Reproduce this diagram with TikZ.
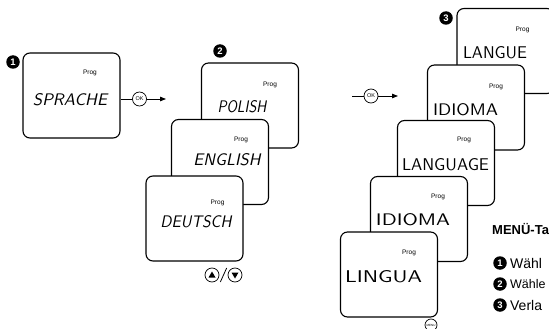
\documentclass[tikz,border=0pt]{standalone}
\usepackage{fontspec}
\setmainfont{Liberation Sans}
\usepackage{graphicx}
\usetikzlibrary{calc,positioning,arrows.meta}
\newcommand{\lcdtext}[2]{\resizebox{#1pt}{12pt}{#2}}
\begin{document}
\begin{tikzpicture}[
  x=1pt, y=-1pt,
  every node/.style={align=center},
  lcdbox/.style={rectangle, draw=black, line width=1.1pt, rounded corners=7pt, minimum width=97pt, minimum height=85pt, fill=white, inner sep=0pt},
  lcdslant/.style={font=\sffamily\slshape, inner sep=0pt},
  lcdup/.style={font=\sffamily, inner sep=0pt},
  prog/.style={font=\fontsize{6.5}{7}\selectfont, inner sep=0pt},
  badge/.style={circle, fill=black, text=white, font=\fontsize{9.5}{10}\selectfont\bfseries, inner sep=0pt, minimum size=13.5pt},
  btn/.style={circle, draw=black, line width=0.7pt, fill=white, inner sep=0pt, minimum size=14pt, font=\fontsize{5.5}{6}\selectfont},
  arrow/.style={-{Triangle[length=6pt,width=4.5pt]}, line width=0.8pt},
  link/.style={line width=0.8pt}
]
  \useasboundingbox (0,0) rectangle (549,329);
  \clip (0,0) rectangle (549,329);

  % step 1
  \node[lcdbox] (sprache) at (71.5,95.5) {};
  \node[badge] (b1) at (13,62) {1};
  \node[prog] at (90,73) {Prog};
  \node[lcdslant] (sprache-t) at ([shift={(-1.5,4.5)}]sprache.center) {\lcdtext{74}{SPRACHE}};

  \node[btn] (ok1) at (139.5,99) {OK};
  \coordinate (ok1-end) at (166,99);
  \draw[link] (sprache.east |- ok1) -- (ok1.west);
  \draw[arrow] (ok1.east) -- (ok1-end);

  % step 2
  \node[badge] (b2) at (220,51) {2};
  \node[lcdbox] (polish) at (250,105.5) {};
  \node[prog] at ([shift={(20,-21)}]polish.center) {Prog};
  \node[lcdslant] at ([shift={(-8,1.5)}]polish.center) {\lcdtext{49}{POLISH}};

  \node[lcdbox] (english) at (220,162) {};
  \node[prog] at ([shift={(21,-22)}]english.center) {Prog};
  \node[lcdslant] at ([shift={(7,-2)}]english.center) {\lcdtext{67}{ENGLISH}};

  \node[lcdbox] (deutsch) at (194.5,218.5) {};
  \node[prog] at ([shift={(23,-16)}]deutsch.center) {Prog};
  \node[lcdslant] at ([shift={(1.5,3.5)}]deutsch.center) {\lcdtext{71}{DEUTSCH}};

  \node[btn] (up) at (212,275) {};
  \node[btn] (down) at (235,275) {};
  \fill ([shift={(0,-3.5)}]up.center) -- ([shift={(-3.5,2.5)}]up.center) -- ([shift={(3.5,2.5)}]up.center) -- cycle;
  \fill ([shift={(0,3.5)}]down.center) -- ([shift={(-3.5,-2.5)}]down.center) -- ([shift={(3.5,-2.5)}]down.center) -- cycle;
  \draw[link] ([shift={(1,7)}]up.east) -- ([shift={(-1,-7)}]down.west);

  % step 3
  \coordinate (ok2-start) at (352,96);
  \node[btn] (ok2) at (371,96) {OK};
  \coordinate (ok2-end) at (398,96);
  \draw[link] (ok2-start) -- (ok2.west);
  \draw[arrow] (ok2.east) -- (ok2-end);

  \node[lcdbox] (langue) at (505.5,51) {};
  \node[badge] (b3) at (446,18) {3};
  \node[prog] at ([shift={(17,-21)}]langue.center) {Prog};
  \node[lcdup] at ([shift={(-10.5,2)}]langue.center) {\lcdtext{64}{LANGUE}};

  \node[lcdbox] (idioma-a) at (476,107.5) {};
  \node[prog] at ([shift={(20,-21)}]idioma-a.center) {Prog};
  \node[lcdup] at ([shift={(-10.5,2.5)}]idioma-a.center) {\lcdtext{65}{IDIOMA}};

  \node[lcdbox] (language) at (446,163) {};
  \node[prog] at ([shift={(18,-23)}]language.center) {Prog};
  \node[lcdup] at ([shift={(-0.5,2)}]language.center) {\lcdtext{87}{LANGUAGE}};

  \node[lcdbox] (idioma-b) at (419,219) {};
  \node[prog] at ([shift={(19,-22)}]idioma-b.center) {Prog};
  \node[lcdup] at ([shift={(-6,1)}]idioma-b.center) {\lcdtext{74}{IDIOMA}};

  \node[lcdbox] (lingua) at (389,274.5) {};
  \node[prog] at ([shift={(20,-21.5)}]lingua.center) {Prog};
  \node[lcdup] at ([shift={(-5.5,2.5)}]lingua.center) {\lcdtext{77}{LINGUA}};

  \node[btn, minimum size=12pt, font=\fontsize{3}{3}\selectfont] (menu) at (431,325) {MENU};

  % legend
  \node[font=\fontsize{13}{14}\selectfont\bfseries, anchor=west, inner sep=0pt] (menu-t) at (492,229) {MENÜ-Ta};
  \node[badge] (l1) at (500,263) {1};
  \node[font=\fontsize{14}{15}\selectfont, anchor=west, inner sep=0pt] at ([xshift=3pt]l1.east) {Wähl};
  \node[badge] (l2) at (500,284) {2};
  \node[font=\fontsize{12.5}{13}\selectfont, anchor=west, inner sep=0pt] at ([xshift=3pt]l2.east) {Wähle};
  \node[badge] (l3) at (500,305) {3};
  \node[font=\fontsize{14}{15}\selectfont, anchor=west, inner sep=0pt] at ([xshift=3pt]l3.east) {Verla};
\end{tikzpicture}
\end{document}
